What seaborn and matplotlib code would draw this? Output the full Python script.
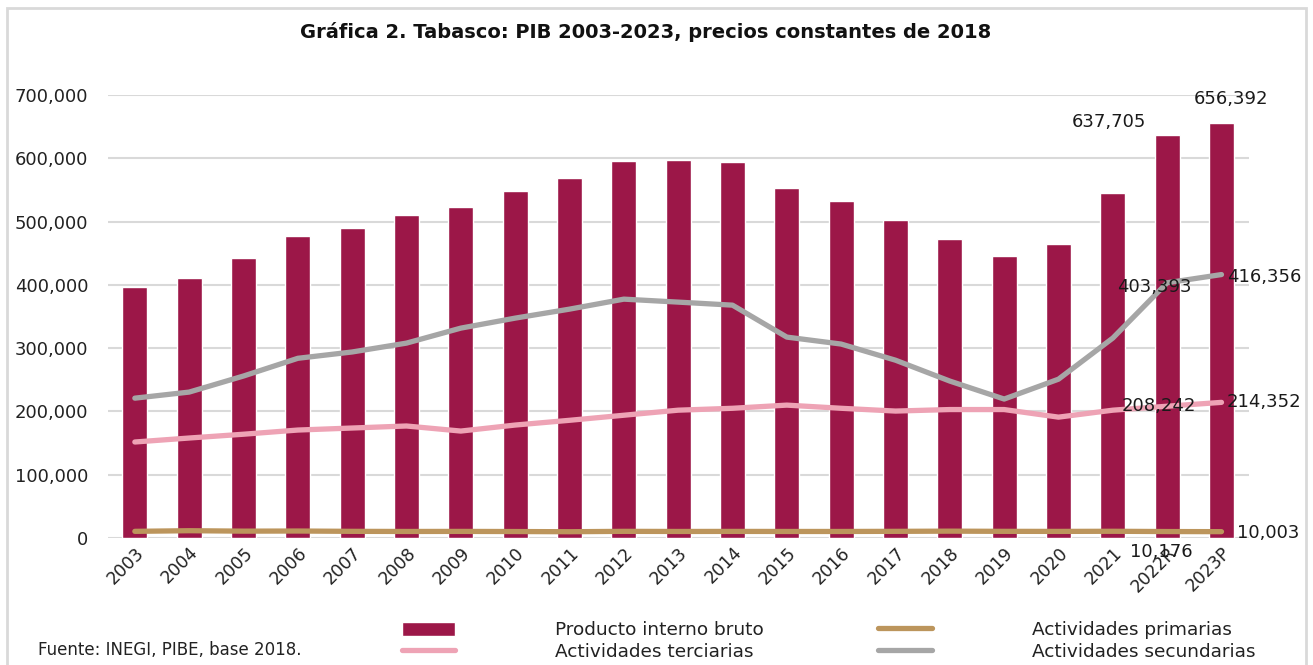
import numpy as np
import pandas as pd
import seaborn as sns
import matplotlib.pyplot as plt
from matplotlib.patches import Rectangle, Patch
from matplotlib.lines import Line2D
from matplotlib.ticker import FuncFormatter, MultipleLocator

# datos (millones de pesos, precios constantes 2018)
years = ['2003', '2004', '2005', '2006', '2007', '2008', '2009', '2010', '2011', '2012',
         '2013', '2014', '2015', '2016', '2017', '2018', '2019', '2020', '2021', '2022R', '2023P']
pib = [396000, 410700, 442300, 477000, 489700, 510000, 523000, 548000, 568700, 595500,
       597000, 595000, 553000, 532000, 502000, 472000, 445500, 464000, 545000, 637705, 656392]
secundarias = [221000, 230600, 256000, 284000, 294000, 308000, 331700, 347500, 361700, 377500,
               372800, 368000, 317500, 306500, 281000, 248000, 219600, 251000, 316000, 403393, 416356]
terciarias = [151700, 158000, 164000, 170600, 173800, 177000, 169000, 178500, 186000, 194000,
              202000, 205000, 210000, 205000, 200600, 203000, 203000, 191000, 202000, 208242, 214352]
primarias = [10500, 11500, 10800, 11000, 10500, 10300, 10400, 10200, 9900, 10500,
             10300, 10400, 10300, 10300, 10500, 10800, 10500, 10400, 10600, 10176, 10003]

C_PIB = '#9C1748'
C_TER = '#EEA3B5'
C_SEC = '#A6A6A6'
C_PRI = '#BC955C'

df = pd.DataFrame({'anio': years, 'pos': np.arange(len(years)), 'pib': pib,
                   'secundarias': secundarias, 'terciarias': terciarias, 'primarias': primarias})

sns.set_theme(style='white')
plt.rcParams['font.family'] = ['DejaVu Sans']

fig = plt.figure(figsize=(13.13, 6.65), dpi=100)
ax = fig.add_axes([0.082, 0.191, 0.869, 0.666])

sns.barplot(data=df, x='anio', y='pib', color=C_PIB, width=0.46, saturation=1, ax=ax, zorder=2)
for col, c in [('primarias', C_PRI), ('terciarias', C_TER), ('secundarias', C_SEC)]:
    sns.lineplot(data=df, x='pos', y=col, color=c, lw=3.8, ax=ax, zorder=3,
                 solid_capstyle='round')

ax.set_ylim(0, 700000)
ax.set_xlim(-0.5, len(years) - 0.5)
ax.yaxis.set_major_locator(MultipleLocator(100000))
ax.yaxis.set_major_formatter(FuncFormatter(lambda v, p: f'{v:,.0f}'))
ax.grid(axis='y', color='#D9D9D9', lw=1.5, zorder=0)
ax.set_axisbelow(True)
for s in ax.spines.values():
    s.set_visible(False)
ax.set_xlabel('')
ax.set_ylabel('')
ax.tick_params(axis='y', length=0, pad=14, labelsize=13, labelcolor='#222222')
ax.tick_params(axis='x', length=0, pad=4, labelsize=12.5, labelcolor='#222222')
ax.set_xticks(df['pos'])
ax.set_xticklabels(years, rotation=45, ha='right', rotation_mode='anchor')

# etiquetas de datos
n = len(years) - 1
lbl = dict(fontsize=13, color='#1a1a1a', textcoords='offset points', annotation_clip=False)
ax.annotate(f'{pib[n-1]:,}', (n - 1, pib[n-1]), xytext=(-42, 9), ha='center', va='center', **lbl)
ax.annotate(f'{pib[n]:,}', (n, pib[n]), xytext=(7, 17), ha='center', va='center', **lbl)
ax.annotate(f'{secundarias[n-1]:,}', (n - 1, secundarias[n-1]), xytext=(-9, -3), ha='center', va='center', **lbl)
ax.annotate(f'{secundarias[n]:,}', (n, secundarias[n]), xytext=(4, -2), ha='left', va='center', **lbl)
ax.annotate(f'{terciarias[n-1]:,}', (n - 1, terciarias[n-1]), xytext=(-6, 0), ha='center', va='center', **lbl)
ax.annotate(f'{terciarias[n]:,}', (n, terciarias[n]), xytext=(4, 0), ha='left', va='center', **lbl)
ax.annotate(f'{primarias[n-1]:,}', (n - 1, primarias[n-1]), xytext=(-4, -15), ha='center', va='center', **lbl)
ax.annotate(f'{primarias[n]:,}', (n, primarias[n]), xytext=(11, -1), ha='left', va='center', **lbl)

fig.text(0.492, 0.952, 'Gráfica 2. Tabasco: PIB 2003-2023, precios constantes de 2018',
         ha='center', va='center', fontsize=14, fontweight='bold', color='#111111')
fig.text(0.029, 0.022, 'Fuente: INEGI, PIBE, base 2018.', ha='left', va='center',
         fontsize=12, color='#222222')

handles = [Patch(facecolor=C_PIB),
           Line2D([], [], color=C_TER, lw=3.8, solid_capstyle='round'),
           Line2D([], [], color=C_PRI, lw=3.8, solid_capstyle='round'),
           Line2D([], [], color=C_SEC, lw=3.8, solid_capstyle='round')]
labels = ['Producto interno bruto', 'Actividades terciarias',
          'Actividades primarias', 'Actividades secundarias']
fig.legend(handles, labels, ncol=2, loc='center', bbox_to_anchor=(0.631, 0.036),
           frameon=False, fontsize=13.3, handlelength=2.9, handleheight=0.8,
           handletextpad=5.4, columnspacing=6.2, labelspacing=0.2, labelcolor='#222222')

fig.patches.append(Rectangle((0.005, -0.02), 0.99, 1.008, transform=fig.transFigure,
                             fill=False, edgecolor='#D9D9D9', lw=2))

fig.savefig('out.png', dpi=100)
plt.close(fig)
